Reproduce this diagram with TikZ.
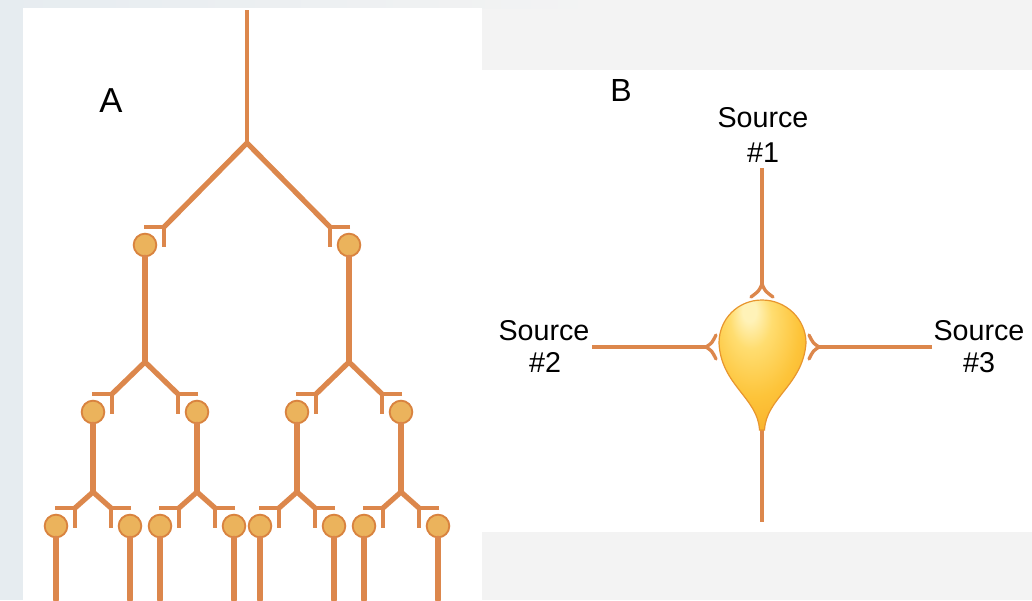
\documentclass[tikz,border=0pt]{standalone}
\usepackage{fontspec}
\setmainfont{Liberation Sans}
\usetikzlibrary{calc}

\definecolor{axon}{HTML}{DC874C}
\definecolor{somafill}{HTML}{EBB35C}
\definecolor{somaedge}{HTML}{D9833F}
\definecolor{pageback}{HTML}{F3F3F3}
\definecolor{sidestrip}{HTML}{E6ECF0}
\definecolor{bulbhi}{HTML}{FFF2B8}
\definecolor{bulblight}{HTML}{FFDD70}
\definecolor{bulbmid}{HTML}{FDC43A}
\definecolor{bulbout}{HTML}{F6A622}
\definecolor{bulbedge}{HTML}{E8962E}

% soft highlight for the cell body, lit from the upper left
\pgfdeclareradialshading{bulbshade}{\pgfpoint{-8bp}{22bp}}{%
  color(0bp)=(bulbhi); color(4bp)=(bulbhi); color(12bp)=(bulblight);
  color(26bp)=(bulbmid); color(44bp)=(bulbout); color(70bp)=(bulbout)}

% one bifurcation: two diagonal branches from #1, each ending in a
% bouton (bar + tick) that contacts a target cell body
\newcommand{\splitfibre}[4]{%
  \path (#1) ++(-#2,#3) coordinate (#4ta) ++(-19,18) node[soma] (#4a) {};
  \path (#1) ++(#2,#3) coordinate (#4tb) ++(19,18) node[soma] (#4b) {};
  \draw[fibre] (#4ta) -- (#1) -- (#4tb);
  \draw[bouton] (#4ta) ++(-20,0) -- (#4ta) -- ++(0,20);
  \draw[bouton] (#4tb) ++(20,0) -- (#4tb) -- ++(0,20);
}

\begin{document}
\begin{tikzpicture}[x=0.75pt,y=-0.75pt,
  fibre/.style={draw=axon, line width=3.9pt, line cap=round, line join=round},
  trunk/.style={draw=axon, line width=3.2pt},
  bouton/.style={draw=axon, line width=2.9pt},
  soma/.style={circle, fill=somafill, draw=somaedge, line width=1.4pt,
               minimum size=17pt, inner sep=0pt},
  fibreb/.style={draw=axon, line width=3.3pt},
  prong/.style={draw=axon, line width=2.5pt, line cap=round},
  panel/.style={font=\fontsize{26}{30}\selectfont, anchor=base},
  srclabel/.style={font=\fontsize{21.5}{25}\selectfont, anchor=base, inner sep=0pt}]

\useasboundingbox (0,0) rectangle (1032,600);

% backdrop and the two white panels
\fill[pageback] (0,0) rectangle (1032,600);
\fill[sidestrip] (0,0) rectangle (23,600);
\shade[left color=sidestrip, right color=pageback] (0,0) rectangle (600,8);
\fill[white] (23,8) rectangle (482,600);
\fill[white] (482,70) rectangle (1032,532);

% ---------------- A: divergence tree ----------------
\node[panel] (labA) at (111,112) {A};
\coordinate (floor) at (0,600);
\coordinate (top) at (247,10);
\coordinate (b0) at (247,143);
\draw[trunk] (top) -- (b0);

\splitfibre{b0}{83}{84}{p}

\coordinate (b1a) at ($(pa)+(0,117)$);
\coordinate (b1b) at ($(pb)+(0,117)$);
\draw[fibre] (pa.south) -- (b1a);
\draw[fibre] (pb.south) -- (b1b);
\splitfibre{b1a}{33}{32}{q}
\splitfibre{b1b}{33}{32}{r}

\foreach \s in {qa,qb,ra,rb}{
  \coordinate (c\s) at ($(\s)+(0,80)$);
  \draw[fibre] (\s.south) -- (c\s);
  \splitfibre{c\s}{18}{16}{\s}
}

\foreach \s in {qaa,qab,qba,qbb,raa,rab,rba,rbb}{
  \draw[fibre] (\s.south) -- (\s |- floor);
}

% ---------------- B: convergence onto one cell ----------------
\node[panel, font=\fontsize{24}{28}\selectfont] (labB) at (621,101) {B};

\node[srclabel] (src1) at (763,127) {Source};
\node[srclabel] (src1n) at (763,162) {\#1};
\node[srclabel] (src2) at (544,340) {Source};
\node[srclabel] (src2n) at (545,372) {\#2};
\node[srclabel] (src3) at (979,340) {Source};
\node[srclabel] (src3n) at (979,372) {\#3};

% incoming fibres with forked endings
\coordinate (in1a) at (762,168);
\coordinate (in1b) at (762,284);
\draw[fibreb] (in1a) -- (in1b);
\draw[prong] (in1b) .. controls (759,291) .. (751,297);
\draw[prong] (in1b) .. controls (765,291) .. (773,297);

\coordinate (in2a) at (592,347);
\coordinate (in2b) at (706,347);
\draw[fibreb] (in2a) -- (in2b);
\draw[prong] (in2b) .. controls (712,343) .. (716,335);
\draw[prong] (in2b) .. controls (712,351) .. (716,359);

\coordinate (in3a) at (932,347);
\coordinate (in3b) at (819,347);
\draw[fibreb] (in3a) -- (in3b);
\draw[prong] (in3b) .. controls (813,343) .. (809,335);
\draw[prong] (in3b) .. controls (813,351) .. (809,359);

% outgoing axon
\coordinate (outa) at (762,415);
\coordinate (outb) at (762,522);
\draw[fibreb] (outa) -- (outb);

% teardrop cell body
\path[draw=bulbedge, line width=0.9pt, shading=bulbshade]
  (759.5,430) .. controls (758,398) and (721,385) .. (719,343)
  .. controls (719,319) and (738,300) .. (762,300)
  .. controls (786,300) and (806,319) .. (806,343)
  .. controls (803,385) and (766,398) .. (764.5,430) -- cycle;

\end{tikzpicture}
\end{document}
